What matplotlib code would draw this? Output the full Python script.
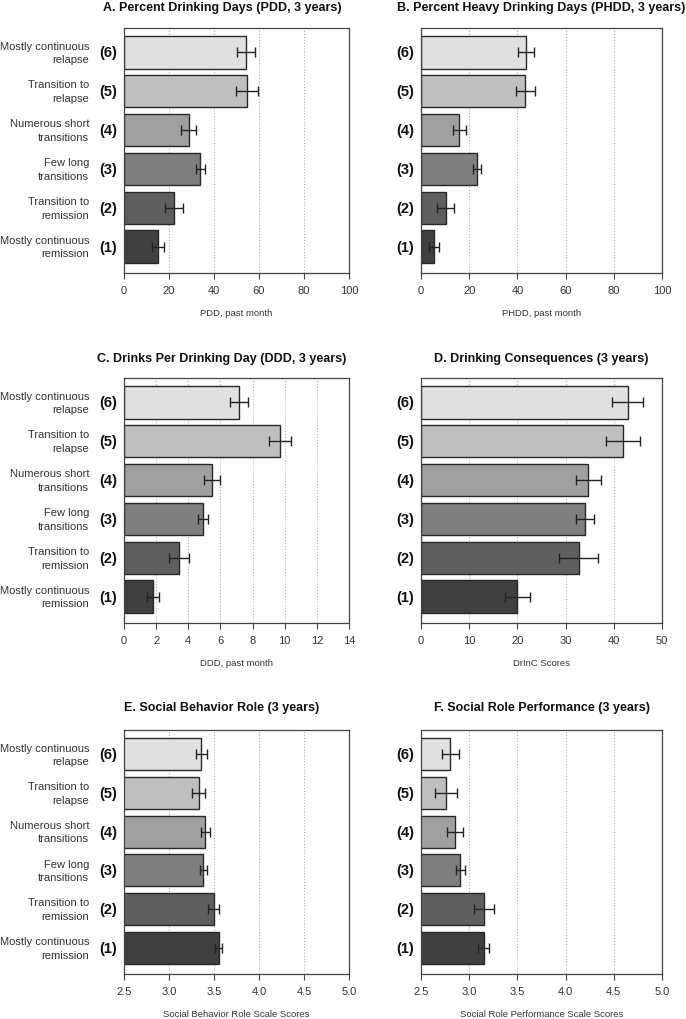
import numpy as np
import matplotlib
matplotlib.use('Agg')
import matplotlib.pyplot as plt

plt.rcParams['font.family'] = ['Liberation Sans', 'DejaVu Sans']

groups = ['(1)', '(2)', '(3)', '(4)', '(5)', '(6)']
group_names = ['Mostly continuous\nremission', 'Transition to\nremission',
               'Few long\ntransitions', 'Numerous short\ntransitions',
               'Transition to\nrelapse', 'Mostly continuous\nrelapse']
bar_colors = ['#404040', '#5f5f5f', '#7f7f7f', '#a0a0a0', '#c0c0c0', '#e0e0e0']

pdd_mean = [15.1, 22.0, 33.9, 28.7, 54.6, 54.1]
pdd_se = [2.5, 4.0, 2.1, 3.4, 4.8, 4.0]
phdd_mean = [5.5, 10.3, 23.3, 15.9, 43.3, 43.5]
phdd_se = [2.1, 3.5, 1.8, 2.6, 3.9, 3.2]
ddd_mean = [1.78, 3.40, 4.93, 5.47, 9.71, 7.16]
ddd_se = [0.37, 0.62, 0.32, 0.48, 0.69, 0.57]
drinc_mean = [20.0, 32.7, 34.0, 34.7, 41.9, 42.9]
drinc_se = [2.6, 4.1, 1.8, 2.6, 3.6, 3.2]
sbr_mean = [3.55, 3.495, 3.38, 3.40, 3.33, 3.36]
sbr_se = [0.04, 0.06, 0.037, 0.05, 0.07, 0.06]
srp_mean = [3.15, 3.15, 2.906, 2.854, 2.76, 2.805]
srp_se = [0.06, 0.105, 0.048, 0.08, 0.11, 0.092]

panels = [
    ('A. Percent Drinking Days (PDD, 3 years)', 'PDD, past month',
     pdd_mean, pdd_se, (0, 100), np.arange(0, 101, 20), '%d'),
    ('B. Percent Heavy Drinking Days (PHDD, 3 years)', 'PHDD, past month',
     phdd_mean, phdd_se, (0, 100), np.arange(0, 101, 20), '%d'),
    ('C. Drinks Per Drinking Day (DDD, 3 years)', 'DDD, past month',
     ddd_mean, ddd_se, (0, 14), np.arange(0, 15, 2), '%d'),
    ('D. Drinking Consequences (3 years)', 'DrInC Scores',
     drinc_mean, drinc_se, (0, 50), np.arange(0, 51, 10), '%d'),
    ('E. Social Behavior Role (3 years)', 'Social Behavior Role Scale Scores',
     sbr_mean, sbr_se, (2.5, 5.0), np.arange(2.5, 5.01, 0.5), '%.1f'),
    ('F. Social Role Performance (3 years)', 'Social Role Performance Scale Scores',
     srp_mean, srp_se, (2.5, 5.0), np.arange(2.5, 5.01, 0.5), '%.1f'),
]

W, H = 686, 1020
fig = plt.figure(figsize=(W / 100, H / 100), dpi=100)

# pixel boxes (left, right, top, bottom)
cols = [(124, 349), (421, 662)]
rows = [(29, 274), (379, 624), (731, 975)]
title_y = [7.5, 359, 708]
title_x = [222, 541.5]

pos = np.arange(6)
for k, (title, xlab, mean, se, xlim, ticks, fmt) in enumerate(panels):
    r, c = divmod(k, 2)
    x0, x1 = cols[c]
    y0, y1 = rows[r]
    ax = fig.add_axes([x0 / W, 1 - y1 / H, (x1 - x0) / W, (y1 - y0) / H])
    ax.barh(pos, mean, height=0.833, color=bar_colors,
            edgecolor='#282828', linewidth=1.0, zorder=2)
    ax.errorbar(mean, pos, xerr=se, fmt='none', ecolor='#222222',
                elinewidth=1.0, capsize=3.3, capthick=1.0, zorder=3)
    ax.set_xlim(*xlim)
    ax.set_ylim(-0.42 - 0.26, 5.42 + 0.21)
    ax.set_xticks(ticks)
    ax.set_xticklabels([fmt % t for t in ticks])
    ax.tick_params(axis='x', length=4, width=0.8, color='#444444',
                   labelsize=8, labelcolor='#333333', pad=5)
    ax.set_yticks([])
    ax.grid(axis='x', linestyle=':', color='#b0b0b0', linewidth=0.8)
    ax.set_axisbelow(True)
    for s in ax.spines.values():
        s.set_color('#444444')
        s.set_linewidth(0.9)

    for i in range(6):
        ax.annotate(groups[i], xy=(0, pos[i]), xycoords=('axes fraction', 'data'),
                    xytext=(-5, 0), textcoords='offset points',
                    ha='right', va='center', fontsize=10.5, fontweight='bold',
                    color='#111111')
        if c == 0:
            ax.annotate(group_names[i], xy=(0, pos[i]),
                        xycoords=('axes fraction', 'data'),
                        xytext=(-25, 0), textcoords='offset points',
                        ha='right', va='center', fontsize=8,
                        color='#333333', linespacing=1.45)

    fig.text(title_x[c] / W, 1 - title_y[r] / H, title, ha='center',
             va='center', fontsize=9, fontweight='bold', color='#111111')
    fig.text((x0 + x1) / 2 / W, 1 - (y1 + 40) / H, xlab, ha='center',
             va='center', fontsize=6.8, color='#333333')

fig.savefig('out.png', dpi=100)
